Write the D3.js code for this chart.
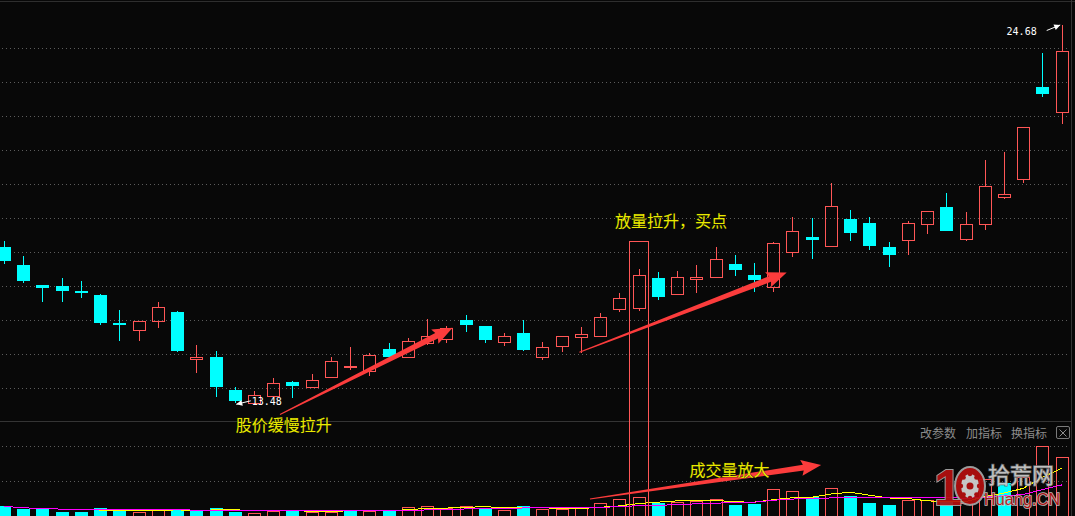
<!DOCTYPE html>
<html><head><meta charset="utf-8">
<script src="https://cdn.jsdelivr.net/npm/d3@7"></script>
<style>html,body{margin:0;padding:0;background:#080808;overflow:hidden}</style>
</head><body>
<svg id="c" width="1075" height="516"></svg>
<script>
// ---- data (daily K-line, 56 sessions) ----
const opens  = [18.11,17.57,16.98,16.95,16.81,16.69,15.86,15.64,15.91,16.18,14.78,14.85,13.87,13.50,13.71,14.11,13.97,14.25,14.55,14.45,15.09,14.84,15.27,15.37,15.95,15.77,15.30,15.56,14.84,15.17,15.43,15.46,16.28,16.31,17.19,16.72,17.17,17.21,17.60,17.28,16.91,17.97,18.40,18.15,18.94,18.82,18.11,18.31,18.78,19.29,18.34,18.78,19.58,20.11,22.84,22.10];
const highs  = [18.29,17.84,16.98,17.19,17.10,16.72,16.24,15.91,16.48,16.21,15.21,15.03,13.96,13.85,14.23,14.14,14.35,14.85,15.15,14.97,15.27,15.41,15.98,15.78,16.09,15.77,15.56,15.95,15.30,15.46,15.74,16.14,16.75,17.46,17.37,17.40,17.57,18.11,17.87,17.63,18.25,19.00,18.97,20.00,19.20,19.00,18.26,18.88,19.16,19.71,19.14,20.68,20.92,21.65,23.85,24.68];
const lows   = [17.61,17.05,16.49,16.49,16.60,15.81,15.33,15.33,15.72,15.01,14.39,13.68,13.48,13.49,13.71,13.65,13.97,14.25,14.47,14.29,14.80,14.82,15.20,15.27,15.60,15.27,15.19,15.04,14.76,15.01,14.98,15.46,16.19,16.21,16.55,16.69,16.75,17.21,17.25,16.78,16.78,17.80,17.76,18.15,18.29,18.03,17.52,17.88,18.50,18.59,18.29,18.62,19.53,19.99,22.56,21.74];
const closes = [17.70,17.11,16.90,16.81,16.75,15.87,15.84,15.91,16.32,15.04,14.84,13.97,13.56,13.73,14.07,13.99,14.17,14.73,14.58,14.91,14.86,15.32,15.47,15.72,15.81,15.36,15.47,15.06,15.15,15.46,15.52,16.03,16.59,17.27,16.64,17.21,17.22,17.74,17.44,17.14,18.22,18.57,18.32,19.31,18.53,18.15,17.88,18.81,19.16,18.59,18.78,19.90,19.67,21.65,22.65,23.90];
const volumes = [9200,6100,6100,4000,4000,7100,5700,3600,5700,5700,5700,7100,4000,3000,4700,5700,3600,3600,6000,4700,6000,8800,9800,7800,9200,7800,6000,9200,6200,6200,7200,12200,16200,18200,12800,13800,14800,16200,10500,11500,26200,24500,18200,27200,19800,12100,10400,15600,15600,14500,13000,36200,33000,39000,69800,58200];
const volTicks = [35000, 70000];
const maPeriods = [5, 10];
const maColors = ["#ffff00", "#ff00ff"];
const toolbarLabels = ["改参数", "加指标", "换指标"];

// annotations (data coordinates: candle index, price / volume)
const priceNotes = [
  {text: "股价缓慢拉升", i: 12.05, p: 12.87},
  {text: "放量拉升，买点", i: 31.77, p: 18.91}
];
const volNotes = [{text: "成交量放大", i: 35.64, v: 46500}];
const priceArrows = [
  {i0: 14.35, p0: 13.15, i1: 23.33, p1: 15.72},
  {i0: 29.92, p0: 14.99, i1: 40.70, p1: 17.35}
];
const volArrows = [{i0: 30.47, v0: 16500, i1: 42.49, v1: 50500}];
const highlight = {i: 33, p: 18.28};

// ---- layout ----
const W = 1075, H = 516;
const RED = "#ff5656", CYAN = "#00ffff", BG = "#080808";
const svg = d3.select("#c");
svg.append("rect").attr("width", W).attr("height", H).attr("fill", BG);

const n = closes.length;
const x = d3.scaleLinear().domain([0, n - 1]).range([4, 1061.7]);
const y = d3.scaleLinear().domain([13.48, 24.68]).range([403.3, 25]);
const yv = d3.scaleLinear().domain([0, 70000]).range([515.5, 445.5]);

const paneTop = 14.3, paneBottom = 422.3, rows = 12;
const rightEdge = 1071.5;

// frame lines
const frame = svg.append("g").attr("shape-rendering", "crispEdges");
frame.append("line").attr("x1", 0).attr("x2", W).attr("y1", 1.5).attr("y2", 1.5).attr("stroke", "#2e2e2e");
frame.append("line").attr("x1", 0).attr("x2", rightEdge).attr("y1", 421.5).attr("y2", 421.5).attr("stroke", "#343434");
frame.append("line").attr("x1", rightEdge).attr("x2", rightEdge).attr("y1", 0).attr("y2", H).attr("stroke", "#343434");

// price grid
const grid = svg.append("g").attr("shape-rendering", "crispEdges");
d3.range(1, rows).forEach(k => {
  const gy = Math.round(paneTop + k * (paneBottom - paneTop) / rows) + 0.5;
  grid.append("line").attr("x1", 2).attr("x2", rightEdge - 2).attr("y1", gy).attr("y2", gy)
    .attr("stroke", "#5c5c5c").attr("stroke-dasharray", "1,3");
});
volTicks.forEach(t => {
  const gy = Math.round(yv(t)) + 0.5;
  grid.append("line").attr("x1", 2).attr("x2", rightEdge - 2).attr("y1", gy).attr("y2", gy)
    .attr("stroke", "#5c5c5c").attr("stroke-dasharray", "1,3");
});

// ---- candles ----
const data = d3.range(n).map(i => ({i, o: opens[i], h: highs[i], l: lows[i], c: closes[i], v: volumes[i]}));
const cg = svg.append("g").attr("shape-rendering", "crispEdges");
data.forEach(d => {
  const cx = Math.round(x(d.i));
  const up = d.c >= d.o;
  const col = up ? RED : CYAN;
  const yt = Math.round(y(Math.max(d.o, d.c)));
  const yb = Math.round(y(Math.min(d.o, d.c)));
  const yh = Math.round(y(d.h)), yl = Math.round(y(d.l));
  if (up) {
    if (yh < yt) cg.append("line").attr("x1", cx + 0.5).attr("x2", cx + 0.5).attr("y1", yh).attr("y2", yt).attr("stroke", col);
    if (yl > yb) cg.append("line").attr("x1", cx + 0.5).attr("x2", cx + 0.5).attr("y1", yb).attr("y2", yl).attr("stroke", col);
    cg.append("rect").attr("x", cx - 5.5).attr("y", yt + 0.5).attr("width", 12).attr("height", Math.max(yb - yt, 1))
      .attr("fill", "none").attr("stroke", col);
  } else {
    cg.append("line").attr("x1", cx + 0.5).attr("x2", cx + 0.5).attr("y1", yh).attr("y2", yl).attr("stroke", col);
    cg.append("rect").attr("x", cx - 6).attr("y", yt).attr("width", 13).attr("height", Math.max(yb - yt, 2))
      .attr("fill", col);
  }
});

// ---- volume bars ----
const vg = svg.append("g").attr("shape-rendering", "crispEdges");
data.forEach(d => {
  const cx = Math.round(x(d.i));
  const up = d.i === 0 ? d.c >= d.o : d.c >= closes[d.i - 1];
  const top = Math.round(yv(d.v));
  const base = Math.round(yv(0));
  if (up) {
    vg.append("rect").attr("x", cx - 5.5).attr("y", top + 0.5).attr("width", 12).attr("height", Math.max(base - top, 1))
      .attr("fill", "none").attr("stroke", RED);
  } else {
    vg.append("rect").attr("x", cx - 6).attr("y", top).attr("width", 13).attr("height", Math.max(base - top + 1, 1))
      .attr("fill", CYAN);
  }
});

// volume moving averages
maPeriods.forEach((p, k) => {
  const ma = volumes.map((_, i) => d3.mean(volumes.slice(Math.max(0, i - p + 1), i + 1)));
  const line = d3.line().x((_, i) => x(i)).y(v => yv(v));
  svg.append("path").attr("d", line(ma)).attr("fill", "none").attr("stroke", maColors[k])
    .attr("stroke-width", 1).attr("shape-rendering", "crispEdges");
});

// highlight box around the breakout day
svg.append("rect")
  .attr("x", Math.round(x(highlight.i - 0.5)) + 0.5).attr("y", Math.round(y(highlight.p)) + 0.5)
  .attr("width", Math.round(x(highlight.i + 0.5)) - Math.round(x(highlight.i - 0.5)))
  .attr("height", H + 5 - Math.round(y(highlight.p)))
  .attr("fill", "none").attr("stroke", RED).attr("shape-rendering", "crispEdges");

// ---- high / low labels ----
const loIdx = d3.minIndex(lows), hiIdx = d3.maxIndex(highs);
function smallArrow(g, x0, y0, x1, y1) {
  g.append("line").attr("x1", x0).attr("y1", y0).attr("x2", x1).attr("y2", y1).attr("stroke", "#fff").attr("stroke-width", 1);
  const a = Math.atan2(y1 - y0, x1 - x0), L = 6, Wd = 3;
  const bx = x1 - Math.cos(a) * L, by = y1 - Math.sin(a) * L;
  const nx = -Math.sin(a), ny = Math.cos(a);
  g.append("path").attr("d", `M${x1},${y1}L${bx + nx * Wd},${by + ny * Wd}L${bx - nx * Wd},${by - ny * Wd}Z`).attr("fill", "#fff");
}
const lab = svg.append("g");
{
  const px = x(loIdx), py = y(lows[loIdx]);
  smallArrow(lab, px + 16, py - 2.5, px + 1.5, py + 1);
  lab.append("text").attr("x", px + 17).attr("y", py + 2).text(d3.format(".2f")(lows[loIdx]))
    .attr("fill", "#fff").attr("font-family", "DejaVu Sans Mono").attr("font-size", 10);
}
{
  const px = x(hiIdx), py = y(highs[hiIdx]);
  smallArrow(lab, px - 15, py + 5.5, px - 1.5, py);
  lab.append("text").attr("x", px - 25).attr("y", py + 10).attr("text-anchor", "end").text(d3.format(".2f")(highs[hiIdx]))
    .attr("fill", "#fff").attr("font-family", "DejaVu Sans Mono").attr("font-size", 10);
}

// ---- red annotation arrows ----
function bigArrow(x0, y0, x1, y1) {
  const dx = x1 - x0, dy = y1 - y0, len = Math.hypot(dx, dy);
  const ux = dx / len, uy = dy / len, nx = -uy, ny = ux;
  const hl = 18, hw = 8, w0 = 1, w1 = 6;
  const bx = x1 - ux * hl, by = y1 - uy * hl;
  const pts = [
    [x0 + nx * w0 / 2, y0 + ny * w0 / 2],
    [bx + nx * w1 / 2, by + ny * w1 / 2],
    [bx - ux * 2 + nx * hw, by - uy * 2 + ny * hw],
    [x1, y1],
    [bx - ux * 2 - nx * hw, by - uy * 2 - ny * hw],
    [bx - nx * w1 / 2, by - ny * w1 / 2],
    [x0 - nx * w0 / 2, y0 - ny * w0 / 2]
  ];
  svg.append("path").attr("d", "M" + pts.map(p => p.join(",")).join("L") + "Z").attr("fill", "#fb3c3c");
}
priceArrows.forEach(a => bigArrow(x(a.i0), y(a.p0), x(a.i1), y(a.p1)));
volArrows.forEach(a => bigArrow(x(a.i0), yv(a.v0), x(a.i1), yv(a.v1)));

// ---- yellow notes ----
function note(t, px, py) {
  svg.append("text").attr("x", px).attr("y", py).attr("dominant-baseline", "central").text(t)
    .attr("fill", "#eaea00").attr("font-family", "Noto Sans CJK SC").attr("font-size", 16)
    .attr("stroke", "#222200").attr("stroke-width", 0.6).attr("paint-order", "stroke");
}
priceNotes.forEach(d => note(d.text, x(d.i), y(d.p)));
volNotes.forEach(d => note(d.text, x(d.i), yv(d.v)));

// ---- toolbar in volume pane ----
const tb = svg.append("g");
const tbX = [920, 966, 1011];
toolbarLabels.forEach((t, k) => {
  tb.append("text").attr("x", tbX[k]).attr("y", 437.5).text(t).attr("fill", "#8c8c8c")
    .attr("font-family", "Noto Sans CJK SC").attr("font-size", 12);
});
tb.append("rect").attr("x", 1056.5).attr("y", 426.5).attr("width", 13).attr("height", 12).attr("rx", 1.5)
  .attr("fill", "none").attr("stroke", "#7a7a7a");
tb.append("path").attr("d", "M1059.5,429.5L1066.5,436.5M1066.5,429.5L1059.5,436.5").attr("stroke", "#8c8c8c");

// ---- watermark ----
const wm = svg.append("g").attr("opacity", 0.92);
wm.append("ellipse").attr("cx", 970).attr("cy", 486).attr("rx", 15).attr("ry", 19)
  .attr("fill", "#b50f0f").attr("stroke", "#a8a8a8").attr("stroke-width", 2);
wm.append("ellipse").attr("cx", 970).attr("cy", 486).attr("rx", 9).attr("ry", 12).attr("fill", "#d6d6d6");
d3.range(8).forEach(k => {
  const a = k * Math.PI / 4;
  wm.append("circle").attr("cx", 970 + Math.cos(a) * 9).attr("cy", 486 + Math.sin(a) * 12).attr("r", 2.2).attr("fill", "#b50f0f");
});
wm.append("circle").attr("cx", 970).attr("cy", 486).attr("r", 3.5).attr("fill", "#b50f0f");
wm.append("text").attr("x", 934).attr("y", 505).text("1").attr("font-family", "Liberation Sans")
  .attr("font-weight", "bold").attr("font-size", 50)
  .attr("fill", "#b50f0f").attr("stroke", "#a8a8a8").attr("stroke-width", 2).attr("paint-order", "stroke");
wm.append("text").attr("x", 988).attr("y", 483).text("拾荒网").attr("font-family", "Noto Sans CJK SC")
  .attr("font-size", 22).attr("fill", "#cfcfcf").attr("stroke", "#6a6a6a").attr("stroke-width", 1.5).attr("paint-order", "stroke");
wm.append("text").attr("x", 984).attr("y", 505).text("Huang.CN").attr("font-family", "Liberation Sans")
  .attr("font-size", 16).attr("textLength", 76).attr("fill", "#b81414").attr("stroke", "#c8c8c8")
  .attr("stroke-width", 1.6).attr("paint-order", "stroke");
</script>
</body></html>
